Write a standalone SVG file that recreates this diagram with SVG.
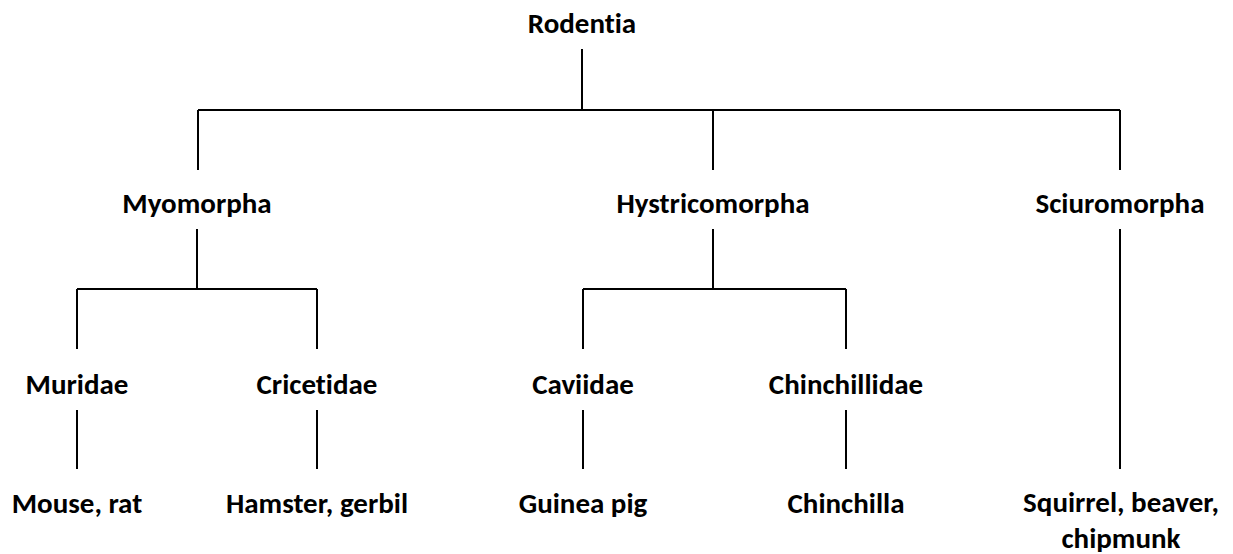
<svg xmlns="http://www.w3.org/2000/svg" width="1233" height="554" viewBox="0 0 1233 554">
<style>
text{font-family:Carlito,Lato,"Open Sans",sans-serif;font-weight:bold;font-size:29px;fill:#000;text-anchor:middle;font-variant-ligatures:none;font-feature-settings:"liga" 0}
.c{stroke:#000;stroke-width:2;fill:none}
</style>
<rect width="1233" height="554" fill="#fff"/>
<g id="connectors" class="c">
<path d="M582 49V110M198 110H1120M198 110V170M713 110V170M1120 110V170"/>
<path d="M197 229V289M77 289H317M77 289V349M317 289V349"/>
<path d="M713 229V289M583 289H846M583 289V349M846 289V349"/>
<path d="M1120 229V469"/>
<path d="M77 410V469M317 410V469M583 410V469M846 410V469"/>
</g>
<g id="rodentia"><text x="582" y="33">Rodentia</text></g>
<g id="myomorpha"><text x="197" y="213">Myomorpha</text></g>
<g id="hystricomorpha"><text x="713" y="213">Hystricomorpha</text></g>
<g id="sciuromorpha"><text x="1120" y="213">Sciuromorpha</text></g>
<g id="muridae"><text x="77" y="394">Muridae</text></g>
<g id="cricetidae"><text x="317" y="394">Cricetidae</text></g>
<g id="caviidae"><text x="583" y="394">Caviidae</text></g>
<g id="chinchillidae"><text x="846" y="394">Chinchillidae</text></g>
<g id="mouse-rat"><text x="77" y="513">Mouse, rat</text></g>
<g id="hamster-gerbil"><text x="317" y="513">Hamster, gerbil</text></g>
<g id="guinea-pig"><text x="583" y="513">Guinea pig</text></g>
<g id="chinchilla"><text x="846" y="513">Chinchilla</text></g>
<g id="squirrel"><text x="1121" y="512">Squirrel, beaver,<tspan x="1121" dy="35.5">chipmunk</tspan></text></g>
</svg>
